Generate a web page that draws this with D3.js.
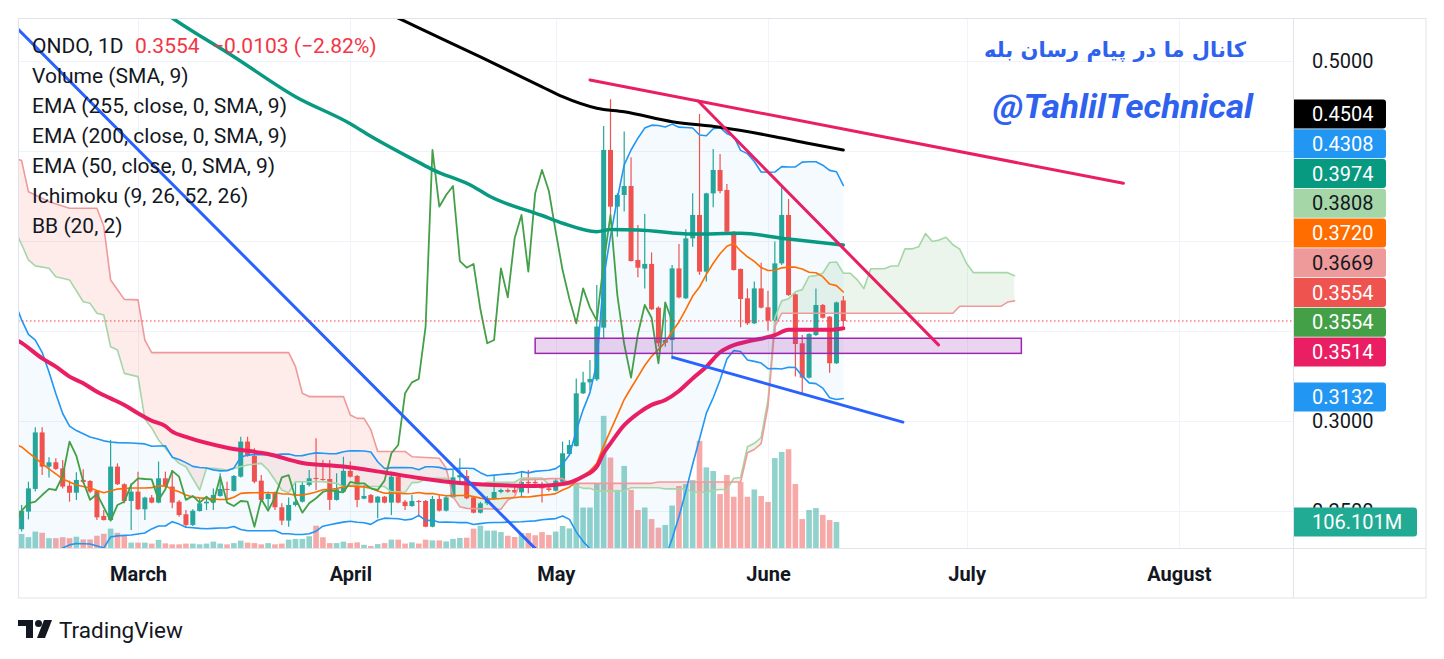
<!DOCTYPE html>
<html lang="en">
<head>
<meta charset="UTF-8">
<title>ONDO, 1D</title>
<script src="https://cdn.jsdelivr.net/npm/d3@7"></script>
<style>
  html, body { margin: 0; padding: 0; background: #ffffff; }
  svg { display: block; }
  text { font-family: Roboto, "Liberation Sans", sans-serif; }
</style>
</head>
<body>
<svg id="chart" width="1444" height="659"></svg>
<script>
// daily bars from Feb 12, the feed has no bar for Jun 1
const firstDay = "2025-02-12";
const missingDays = ["2025-06-01"];

const opens = [
  0.2397, 0.2495, 0.2621, 0.2935, 0.2745, 0.2769, 0.2735, 0.2639, 0.2600, 0.2671,
  0.2665, 0.2610, 0.2471, 0.2448, 0.2745, 0.2647, 0.2554, 0.2606, 0.2508, 0.2573,
  0.2545, 0.2680, 0.2634, 0.2550, 0.2480, 0.2421, 0.2498, 0.2541, 0.2545, 0.2582,
  0.2621, 0.2610, 0.2689, 0.2884, 0.2804, 0.2667, 0.2565, 0.2597, 0.2519, 0.2445,
  0.2532, 0.2550, 0.2643, 0.2682, 0.2676, 0.2676, 0.2560, 0.2606, 0.2721, 0.2693,
  0.2567, 0.2587, 0.2545, 0.2578, 0.2545, 0.2689, 0.2550, 0.2526, 0.2554, 0.2554,
  0.2411, 0.2565, 0.2500, 0.2574, 0.2685, 0.2693, 0.2574, 0.2489, 0.2541, 0.2567,
  0.2604, 0.2615, 0.2615, 0.2602, 0.2660, 0.2660, 0.2641, 0.2624, 0.2611, 0.2661,
  0.2815, 0.2859, 0.3152, 0.3213, 0.3230, 0.3517, 0.4504, 0.4189, 0.4254, 0.4304,
  0.3893, 0.3845, 0.3871, 0.3628, 0.3433, 0.3448, 0.3846, 0.3680, 0.4013, 0.4143,
  0.3828, 0.4263, 0.4393, 0.4282, 0.4050, 0.3843, 0.3680, 0.3541, 0.3735, 0.3630,
  0.3556, 0.3874, 0.4143, 0.3702, 0.3430, 0.3239, 0.3476, 0.3643, 0.3578, 0.3319,
  0.3668
];
const highs = [
  0.2532, 0.2661, 0.2963, 0.2963, 0.2797, 0.2791, 0.2782, 0.2667, 0.2713, 0.2730,
  0.2671, 0.2615, 0.2504, 0.2893, 0.2763, 0.2652, 0.2652, 0.2717, 0.2578, 0.2587,
  0.2773, 0.2717, 0.2726, 0.2560, 0.2504, 0.2508, 0.2574, 0.2574, 0.2624, 0.2708,
  0.2661, 0.2698, 0.2911, 0.2911, 0.2847, 0.2698, 0.2606, 0.2606, 0.2541, 0.2574,
  0.2661, 0.2661, 0.2726, 0.2902, 0.2782, 0.2782, 0.2708, 0.2800, 0.2773, 0.2698,
  0.2643, 0.2593, 0.2582, 0.2582, 0.2717, 0.2708, 0.2560, 0.2587, 0.2560, 0.2560,
  0.2582, 0.2587, 0.2582, 0.2726, 0.2791, 0.2726, 0.2578, 0.2550, 0.2582, 0.2698,
  0.2624, 0.2624, 0.2634, 0.2717, 0.2726, 0.2680, 0.2661, 0.2634, 0.2680, 0.2884,
  0.2893, 0.3235, 0.3272, 0.3337, 0.3754, 0.4637, 0.4786, 0.4263, 0.4606, 0.4464,
  0.4087, 0.4148, 0.3935, 0.3635, 0.3660, 0.3865, 0.3982, 0.4063, 0.4263, 0.4704,
  0.4267, 0.4509, 0.4482, 0.4315, 0.4054, 0.3846, 0.3735, 0.3773, 0.3878, 0.3722,
  0.3995, 0.4300, 0.4232, 0.3707, 0.3476, 0.3486, 0.3735, 0.3648, 0.3582, 0.3662,
  0.3693
];
const lows = [
  0.2385, 0.2452, 0.2606, 0.2698, 0.2685, 0.2726, 0.2624, 0.2550, 0.2560, 0.2652,
  0.2597, 0.2448, 0.2445, 0.2445, 0.2643, 0.2541, 0.2393, 0.2504, 0.2448, 0.2541,
  0.2541, 0.2624, 0.2513, 0.2467, 0.2408, 0.2415, 0.2495, 0.2504, 0.2504, 0.2578,
  0.2563, 0.2606, 0.2685, 0.2800, 0.2652, 0.2550, 0.2513, 0.2504, 0.2421, 0.2411,
  0.2523, 0.2545, 0.2634, 0.2615, 0.2667, 0.2504, 0.2556, 0.2600, 0.2685, 0.2519,
  0.2563, 0.2541, 0.2458, 0.2541, 0.2476, 0.2541, 0.2504, 0.2522, 0.2467, 0.2408,
  0.2408, 0.2495, 0.2495, 0.2569, 0.2652, 0.2563, 0.2485, 0.2485, 0.2532, 0.2560,
  0.2597, 0.2600, 0.2597, 0.2578, 0.2597, 0.2634, 0.2545, 0.2606, 0.2606, 0.2652,
  0.2809, 0.2856, 0.3148, 0.3167, 0.3220, 0.3452, 0.4143, 0.4022, 0.4162, 0.3884,
  0.3797, 0.3735, 0.3615, 0.3411, 0.3411, 0.3341, 0.3680, 0.3676, 0.3967, 0.3810,
  0.3773, 0.4186, 0.4263, 0.4046, 0.3834, 0.3519, 0.3532, 0.3537, 0.3624, 0.3500,
  0.3467, 0.3865, 0.3693, 0.3245, 0.3143, 0.3235, 0.3471, 0.3568, 0.3267, 0.3315,
  0.3523
];
const closes = [
  0.2500, 0.2624, 0.2935, 0.2745, 0.2769, 0.2732, 0.2634, 0.2600, 0.2671, 0.2660,
  0.2606, 0.2463, 0.2448, 0.2745, 0.2647, 0.2554, 0.2606, 0.2508, 0.2573, 0.2545,
  0.2680, 0.2634, 0.2545, 0.2476, 0.2421, 0.2500, 0.2541, 0.2550, 0.2587, 0.2621,
  0.2615, 0.2693, 0.2884, 0.2804, 0.2661, 0.2560, 0.2593, 0.2519, 0.2445, 0.2532,
  0.2550, 0.2643, 0.2680, 0.2676, 0.2674, 0.2560, 0.2619, 0.2721, 0.2689, 0.2560,
  0.2582, 0.2545, 0.2578, 0.2545, 0.2689, 0.2545, 0.2526, 0.2554, 0.2550, 0.2411,
  0.2565, 0.2500, 0.2574, 0.2685, 0.2698, 0.2569, 0.2489, 0.2541, 0.2569, 0.2604,
  0.2615, 0.2606, 0.2602, 0.2660, 0.2652, 0.2652, 0.2624, 0.2615, 0.2667, 0.2819,
  0.2865, 0.3152, 0.3213, 0.3232, 0.3523, 0.4504, 0.4189, 0.4254, 0.4304, 0.3887,
  0.3850, 0.3871, 0.3619, 0.3430, 0.3448, 0.3846, 0.3685, 0.4013, 0.4143, 0.3828,
  0.4263, 0.4393, 0.4276, 0.4050, 0.3837, 0.3676, 0.3541, 0.3735, 0.3628, 0.3556,
  0.3874, 0.4143, 0.3698, 0.3426, 0.3239, 0.3482, 0.3643, 0.3572, 0.3319, 0.3657,
  0.3554
];
// millions; the last bar has no volume print yet
const volumes = [
  57, 44, 67, 62, 40, 40, 44, 40, 46, 35,
  35, 50, 58, 79, 62, 54, 22, 22, 22, 18,
  33, 19, 15, 15, 18, 18, 15, 18, 26, 18,
  15, 20, 30, 22, 20, 15, 20, 15, 18, 34,
  37, 37, 48, 91, 44, 20, 20, 26, 20, 23,
  13, 8, 16, 20, 34, 34, 18, 23, 18, 34,
  31, 31, 27, 37, 41, 42, 79, 91, 71, 71,
  65, 50, 45, 61, 61, 52, 65, 53, 67, 90,
  80, 264, 165, 165, 264, 539, 369, 237, 335, 237,
  155, 165, 118, 83, 94, 173, 253, 261, 277, 437,
  329, 314, 220, 298, 209, 269, 209, 239, 212, 188,
  367, 392, 403, 261, 118, 155, 163, 135, 114, 106.101,
  null
];

// moving averages, [bar, price]
const ema255 = [[45,0.5420],[55,0.5237],[58,0.5182],[67,0.5021],[76,0.4855],[79,0.4800],[84,0.4736],
  [88,0.4716],[95,0.4661],[102,0.4630],[110,0.4578],[115,0.4540],[120,0.4504]];
const ema200 = [[14,0.5460],[22,0.5237],[31,0.5022],[40,0.4800],[48,0.4650],[51,0.4580],[58,0.4435],
  [60,0.4395],[66,0.4300],[68,0.4254],[76,0.4140],[79,0.4097],[84,0.4050],[86,0.4062],[90,0.4060],
  [98,0.4037],[105,0.4041],[112,0.4009],[120,0.3976]];
const ema50 = [[-1,0.3455],[0,0.3432],[3,0.3346],[5,0.3300],[7,0.3245],[9,0.3208],[11,0.3161],[13,0.3124],
  [15,0.3087],[17,0.3041],[19,0.3000],[21,0.2970],[22,0.2939],[24,0.2910],[30,0.2850],[36,0.2815],
  [41,0.2765],[47,0.2745],[53,0.2712],[58,0.2682],[64,0.2654],[69,0.2643],[75,0.2637],[79,0.2648],
  [82,0.2690],[84,0.2745],[85,0.2820],[86,0.2874],[88,0.2975],[90,0.3040],[92,0.3088],[94,0.3115],
  [96,0.3165],[98,0.3235],[100,0.3300],[102,0.3380],[104,0.3420],[106,0.3440],[108,0.3455],
  [110,0.3475],[112,0.3505],[115,0.3505],[118,0.3505],[120,0.3514]];

// Bollinger values for the bars before a full 20-bar window exists
const bbEarlyBars  = [-1, 0, 1, 2, 3, 4, 5, 6, 7, 8, 10, 11, 12, 13, 14, 16, 18];
const bbEarlyUpper = [0.3660, 0.3560, 0.3480, 0.3448, 0.3380, 0.3270, 0.3150, 0.3040, 0.2970, 0.2945,
  0.2910, 0.2900, 0.2888, 0.2882, 0.2878, 0.2876, 0.2871];
const bbEarlyBasis = [0.2870, 0.2854, 0.2823, 0.2793, 0.2762, 0.2732, 0.2704, 0.2676, 0.2660, 0.2643,
  0.2626, 0.2612, 0.2600, 0.2610, 0.2620, 0.2626, 0.2626];
const bbEarlyLower = [0.2080, 0.2150, 0.2145, 0.2140, 0.2165, 0.2190, 0.2240, 0.2293, 0.2310, 0.2318,
  0.2315, 0.2304, 0.2293, 0.2354, 0.2360, 0.2365, 0.2376];

// Ichimoku leading spans before enough history exists, [plotted bar, price]
const leadAEarly = [[-1,0.4060],[0,0.3980],[1,0.3893],[2,0.3860],[4,0.3847],[5,0.3800],[7,0.3782],
  [9,0.3661],[10,0.3652],[11,0.3597],[12,0.3587],[13,0.3411],[14,0.3393],[15,0.3263],[17,0.3245],
  [18,0.3010],[19,0.2960],[20,0.2893],[22,0.2800],[23,0.2763],[24,0.2744],[26,0.2615],[27,0.2736],
  [28,0.2736],[30,0.2726],[33,0.2754],[35,0.2763],[36,0.2726],[38,0.2615],[39,0.2600],[40,0.2661],
  [44,0.2661],[46,0.2652],[47,0.2633],[49,0.2645]];
const leadBEarly = [[-1,0.4458],[0,0.4445],[1,0.4272],[2,0.4254],[4,0.4217],[7,0.4180],[11,0.4180],
  [12,0.4080],[13,0.3782],[15,0.3674],[17,0.3671],[18,0.3448],[19,0.3378],[39,0.3378],[40,0.3300],
  [41,0.3152],[42,0.3134],[47,0.3134],[48,0.3032],[49,0.3013],[50,0.3013],[51,0.2950],[52,0.2829],
  [56,0.2829],[57,0.2800],[61,0.2791],[62,0.2736],[63,0.2578],[64,0.2522],[65,0.2513],[70,0.2508],
  [71,0.2559],[72,0.2578],[73,0.2671],[75,0.2674]];

// drawings, [bar, price] anchors
const blueLines = [[[-5,0.5346],[80,0.2099]], [[95.1,0.3352],[128.7,0.2992]]];
const pinkLines = [[[83.0,0.4893],[160.9,0.4319]], [[98.8,0.4776],[133.9,0.3421]]];
const zoneBox = [[75,0.3458],[146,0.3374]];

const priceTicks = [0.50, 0.45, 0.40, 0.35, 0.30, 0.25];
const lastValueLabels = [0.4504, 0.4308, 0.3974, 0.3808, 0.3720, 0.3669, 0.3554, 0.3554, 0.3514, 0.3132];
const legendLines = ["Volume (SMA, 9)", "EMA (255, close, 0, SMA, 9)", "EMA (200, close, 0, SMA, 9)",
  "EMA (50, close, 0, SMA, 9)", "Ichimoku (9, 26, 52, 26)", "BB (20, 2)"];

// ---------------------------------------------------------------
const up = "#26A69A", down = "#EF5350", ink = "#131722", frame = "#E0E3EB";
const paneL = 18, paneT = 18, paneR = 1293, paneB = 548, outerR = 1426, outerB = 598;

const start = new Date(firstDay + "T00:00:00Z");
const fmtDay = d3.utcFormat("%Y-%m-%d");
const days = d3.utcDay.range(start, d3.utcDay.offset(start, 220)).filter(d => !missingDays.includes(fmtDay(d)));

const xScale = d3.scaleLinear().domain([-0.526, 185.67]).range([paneL, paneR]);
const yScale = d3.scaleLinear().domain([0.3, 0.5]).range([420.7, 60.7]);
const vScale = d3.scaleLinear().domain([0, 408]).range([paneB, paneB - 100]);

const monthTicks = d3.range(1, 186).filter(i => days[i].getUTCMonth() !== days[i - 1].getUTCMonth());

// indicators derived from the bars
const bars = d3.range(closes.length);
const bbUpper = bbEarlyBars.map((b, k) => [b, bbEarlyUpper[k]]);
const bbBasis = bbEarlyBars.map((b, k) => [b, bbEarlyBasis[k]]);
const bbLower = bbEarlyBars.map((b, k) => [b, bbEarlyLower[k]]);
for (let i = 19; i < closes.length; i++) {
  const win = closes.slice(i - 19, i + 1);
  const m = d3.mean(win);
  const sd = Math.sqrt(d3.mean(win, c => (c - m) ** 2));
  bbUpper.push([i, m + 2 * sd]);
  bbBasis.push([i, m]);
  bbLower.push([i, m - 2 * sd]);
}
const mid = (len, i) => (d3.max(highs.slice(i - len + 1, i + 1)) + d3.min(lows.slice(i - len + 1, i + 1))) / 2;
const leadA = leadAEarly.slice();
for (let b = 25; b < closes.length; b++) leadA.push([b + 25, (mid(9, b) + mid(26, b)) / 2]);
const leadB = leadBEarly.slice();
for (let b = 51; b < closes.length; b++) leadB.push([b + 25, mid(52, b)]);
const lagging = d3.range(24, closes.length).map(i => [i - 25, closes[i]]);

// ---------------------------------------------------------------
const svg = d3.select("#chart");
const defs = svg.append("defs");
defs.append("clipPath").attr("id", "pane").append("rect")
  .attr("x", paneL).attr("y", paneT).attr("width", paneR - paneL).attr("height", paneB - paneT);

const line = d3.line().x(d => xScale(d[0])).y(d => yScale(d[1]));
const smooth = d3.line().x(d => xScale(d[0])).y(d => yScale(d[1])).curve(d3.curveMonotoneX);
const below = d3.area().x(d => xScale(d[0])).y0(d => yScale(d[1])).y1(paneB + 200);
const above = d3.area().x(d => xScale(d[0])).y0(paneT - 200).y1(d => yScale(d[1]));
defs.append("clipPath").attr("id", "aboveA").append("path").attr("d", above(leadA));
defs.append("clipPath").attr("id", "aboveB").append("path").attr("d", above(leadB));

svg.append("rect").attr("width", 1444).attr("height", 659).attr("fill", "#fff");

// grid
const grid = svg.append("g").attr("stroke", "#F0F3FA").attr("stroke-width", 1);
grid.selectAll("line.h").data(priceTicks).join("line").attr("class", "h")
  .attr("x1", paneL).attr("x2", paneR)
  .attr("y1", d => Math.round(yScale(d)) + 0.5).attr("y2", d => Math.round(yScale(d)) + 0.5);
grid.selectAll("line.v").data(monthTicks).join("line").attr("class", "v")
  .attr("y1", paneT).attr("y2", paneB)
  .attr("x1", d => Math.round(xScale(d)) + 0.5).attr("x2", d => Math.round(xScale(d)) + 0.5);

const pane = svg.append("g").attr("clip-path", "url(#pane)");

// volume
pane.append("g").selectAll("rect").data(bars.filter(i => volumes[i] != null)).join("rect")
  .attr("x", i => xScale(i) - 2.8).attr("width", 5.6)
  .attr("y", i => vScale(volumes[i])).attr("height", i => paneB - vScale(volumes[i]))
  .attr("fill", i => closes[i] >= opens[i] ? "rgba(38,166,154,0.5)" : "rgba(239,83,80,0.5)");

// Bollinger fill
pane.append("path")
  .attr("d", d3.area().x(d => xScale(d[0])).y0(d => yScale(d[1])).y1((d, k) => yScale(bbLower[k][1]))(bbUpper))
  .attr("fill", "rgba(33,150,243,0.05)");

// cloud
pane.append("g").attr("clip-path", "url(#aboveB)").append("path")
  .attr("d", below(leadA)).attr("fill", "rgba(67,160,71,0.10)");
pane.append("g").attr("clip-path", "url(#aboveA)").append("path")
  .attr("d", below(leadB)).attr("fill", "rgba(244,67,54,0.10)");

// candles
const candles = pane.append("g");
candles.selectAll("line").data(bars).join("line")
  .attr("x1", i => xScale(i)).attr("x2", i => xScale(i))
  .attr("y1", i => yScale(highs[i])).attr("y2", i => yScale(lows[i]))
  .attr("stroke", i => closes[i] >= opens[i] ? up : down).attr("stroke-width", 1.2);
candles.selectAll("rect").data(bars).join("rect")
  .attr("x", i => xScale(i) - 2.5).attr("width", 5)
  .attr("y", i => yScale(Math.max(opens[i], closes[i])))
  .attr("height", i => Math.max(1, Math.abs(yScale(opens[i]) - yScale(closes[i]))))
  .attr("fill", i => closes[i] >= opens[i] ? up : down);

const drawLine = (data, gen, color, width) => pane.append("path").attr("d", gen(data))
  .attr("fill", "none").attr("stroke", color).attr("stroke-width", width)
  .attr("stroke-linejoin", "round").attr("stroke-linecap", "round");

drawLine(leadA, line, "#A5D6A7", 1.6);
drawLine(leadB, line, "#EF9A9A", 1.6);
drawLine(bbUpper, line, "#2196F3", 1.6);
drawLine(bbLower, line, "#2196F3", 1.6);
drawLine(bbBasis, line, "#FF6D00", 1.6);
drawLine(lagging, line, "#43A047", 1.8);
drawLine(ema255, smooth, "#000000", 3);
drawLine(ema200, smooth, "#089981", 3.5);
drawLine(ema50, smooth, "#E91E63", 4);

// drawings
pane.append("rect")
  .attr("x", xScale(zoneBox[0][0])).attr("y", yScale(zoneBox[0][1]))
  .attr("width", xScale(zoneBox[1][0]) - xScale(zoneBox[0][0]))
  .attr("height", yScale(zoneBox[1][1]) - yScale(zoneBox[0][1]))
  .attr("fill", "rgba(156,39,176,0.2)").attr("stroke", "#9C27B0").attr("stroke-width", 1.5);
blueLines.forEach(l => drawLine(l, line, "#2962FF", 3));
pinkLines.forEach(l => drawLine(l, line, "#E91E63", 3));

// last price line
const lastPrice = closes[closes.length - 1];
pane.append("line").attr("x1", paneL).attr("x2", paneR)
  .attr("y1", yScale(lastPrice)).attr("y2", yScale(lastPrice))
  .attr("stroke", "#F23645").attr("stroke-width", 1).attr("stroke-dasharray", "1.5,2.5");

// frame
svg.append("rect").attr("x", 18.5).attr("y", 18.5).attr("width", outerR - 18.5).attr("height", outerB - 18.5)
  .attr("fill", "none").attr("stroke", frame);
svg.append("line").attr("x1", paneR + 0.5).attr("x2", paneR + 0.5).attr("y1", paneT).attr("y2", outerB).attr("stroke", frame);
svg.append("line").attr("x1", paneL).attr("x2", outerR).attr("y1", paneB + 0.5).attr("y2", paneB + 0.5).attr("stroke", frame);

// time axis
svg.append("g").attr("transform", `translate(0,${paneB})`)
  .call(d3.axisBottom(xScale).tickValues(monthTicks).tickSize(0)
    .tickFormat(i => d3.utcFormat("%B")(days[i])))
  .call(g => g.select(".domain").remove())
  .call(g => g.selectAll("text").attr("y", 26).attr("dy", "0.35em")
    .attr("fill", ink).style("font-size", "20px").style("font-weight", "700")
    .style("font-family", "Roboto, sans-serif"));

// last value labels, stacked where they would collide
const labelStyle = [
  ["#000000", "#fff"], ["#2196F3", "#fff"], ["#089981", "#fff"], ["#A5D6A7", ink], ["#FF6D00", "#fff"],
  ["#EF9A9A", ink], ["#EF5350", "#fff"], ["#43A047", "#fff"], ["#E91E63", "#fff"], ["#2196F3", "#fff"]
];
const stackTop = 114.1, stackStep = 29.75, boxH = 29;
const labelY = lastValueLabels.map((v, k) => k < 9 ? stackTop + k * stackStep : yScale(v));

// price axis, ticks hidden under a value label are left out
const freeTicks = priceTicks.filter(t => labelY.every(y => Math.abs(y - yScale(t)) > boxH / 2 + 6));
svg.append("g").attr("transform", `translate(${paneR},0)`)
  .call(d3.axisRight(yScale).tickValues(freeTicks).tickSize(0).tickPadding(19).tickFormat(d3.format(".4f")))
  .call(g => g.select(".domain").remove())
  .call(g => g.selectAll("text").attr("fill", ink).style("font-size", "20px")
    .style("font-family", "Roboto, sans-serif"));

const tag = (y, w, bg, fg, txt) => {
  const g = svg.append("g").attr("transform", `translate(${paneR + 1},${y})`);
  g.append("path")
    .attr("d", `M0,${-boxH / 2} H${w - 3} Q${w},${-boxH / 2} ${w},${-boxH / 2 + 3} V${boxH / 2 - 3} Q${w},${boxH / 2} ${w - 3},${boxH / 2} H0 Z`)
    .attr("fill", bg);
  g.append("text").attr("x", 18).attr("dy", "0.35em").attr("fill", fg)
    .style("font-size", "20px").text(txt);
};
lastValueLabels.forEach((v, k) => tag(labelY[k], 92, labelStyle[k][0], labelStyle[k][1], d3.format(".4f")(v)));
const lastVol = volumes.filter(v => v != null).pop();
tag(vScale(lastVol), 123, "#22AB94", "#fff", d3.format(".3f")(lastVol) + "M");

// legend
const prevClose = closes[closes.length - 2];
const chg = lastPrice - prevClose;
const minus = s => s.replace("-", "\u2212");
const legend = svg.append("g").style("font-size", "21px").attr("fill", ink);
legend.append("text").attr("x", 32).attr("y", 52.5).text("ONDO, 1D");
legend.append("text").attr("x", 135).attr("y", 52.5).attr("fill", "#F23645").text(d3.format(".4f")(lastPrice));
legend.append("text").attr("x", 212).attr("y", 52.5).attr("fill", "#F23645")
  .text(`${minus(d3.format(".4f")(chg))} (${minus(d3.format(".2f")(chg / prevClose * 100))}%)`);
legend.selectAll("text.ind").data(legendLines).join("text").attr("class", "ind")
  .attr("x", 32).attr("y", (d, k) => 82.5 + k * 30.1).text(d => d);

// channel watermark
svg.append("text").attr("x", 1115).attr("y", 57).attr("text-anchor", "middle")
  .attr("fill", "#2E62EE").style("font-family", "'DejaVu Sans', sans-serif")
  .style("font-size", "21px").style("font-weight", "700")
  .text("کانال ما در پیام رسان بله");
svg.append("text").attr("x", 993).attr("y", 118)
  .attr("textLength", 260).attr("lengthAdjust", "spacingAndGlyphs")
  .attr("fill", "#2E62EE").style("font-size", "34px").style("font-weight", "700").style("font-style", "italic")
  .text("@TahlilTechnical");

// TradingView mark
const logo = svg.append("g").attr("fill", ink);
logo.append("path").attr("d", "M18,620 H33 V638 H26 V626 H18 Z");
logo.append("circle").attr("cx", 38.5).attr("cy", 623.5).attr("r", 3.5);
logo.append("path").attr("d", "M44,620 H52 L45,638 H37 Z");
svg.append("text").attr("x", 59).attr("y", 637.5).attr("fill", ink)
  .style("font-size", "22.5px").text("TradingView");
</script>
</body>
</html>
